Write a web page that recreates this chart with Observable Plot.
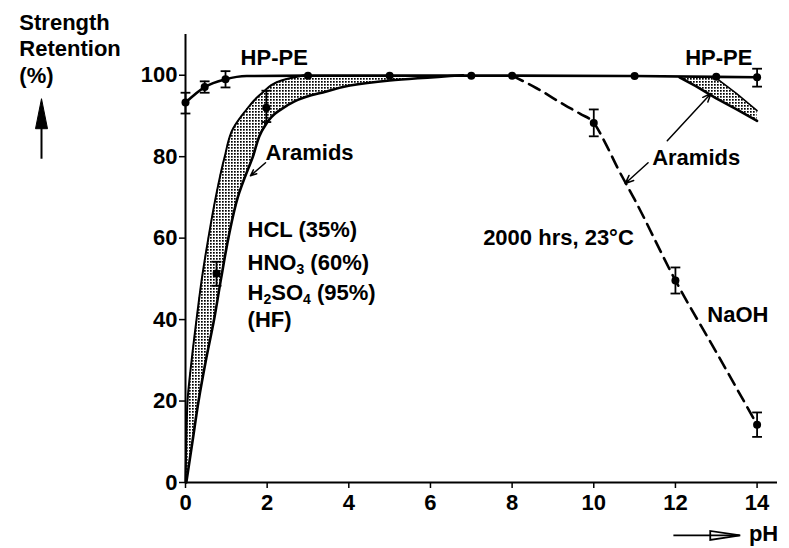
<!DOCTYPE html>
<html><head><meta charset="utf-8">
<script src="https://cdn.jsdelivr.net/npm/d3@7"></script>
<script src="https://cdn.jsdelivr.net/npm/@observablehq/plot@0.6"></script>
<style>body{margin:0;background:#fff;}</style>
</head><body><div id="chart"></div>
<script>
// ---- data ----
const xTicks = [0, 2, 4, 6, 8, 10, 12, 14];
const yTicks = [0, 20, 40, 60, 80, 100];

// HP-PE curve
const hpX = [0, 0.47, 0.98, 1.5, 3, 5, 7, 8, 11, 13, 14];
const hpY = [93.3, 97.1, 99.0, 99.8, 99.9, 99.9, 99.9, 99.9, 99.8, 99.6, 99.5];
const hpDotX = [0, 0.47, 0.98, 3, 5, 7, 8, 11, 13, 14];
const hpDotY = [93.3, 97.1, 99.0, 99.9, 99.9, 99.9, 99.9, 99.8, 99.6, 99.5];
const hpErrX = [0, 0.47, 0.98, 14];
const hpErrLo = [90.6, 95.7, 97.0, 97.2];
const hpErrHi = [95.7, 98.5, 101.0, 101.6];

// Aramids in acid: band (left / right boundary in pH at given retention)
const acidY = [0, 10, 20, 30, 40, 50, 60, 70, 80, 87, 91, 95.5, 98.7, 100];
const acidLeft = [0, 0.02, 0.05, 0.15, 0.27, 0.4, 0.56, 0.74, 0.96, 1.17, 1.45, 1.86, 2.35, 2.9];
const acidRight = [0.02, 0.17, 0.32, 0.5, 0.7, 0.87, 1.05, 1.28, 1.65, 1.91, 2.25, 3.25, 5.0, 6.8];
const acidPtX = [0.76, 1.98];
const acidPtY = [51.3, 92.0];
const acidPtLo = [48.3, 88.5];
const acidPtHi = [54.2, 96.2];

// Aramids in NaOH (dashed)
const naohX = [8, 8.6, 9.3, 9.67, 10, 10.28, 10.58, 11, 12, 13, 14];
const naohY = [99.9, 96.8, 92.6, 90.5, 88.3, 83.4, 77.3, 69.5, 49.6, 32.0, 14.2];
const naohPtX = [10, 12, 14];
const naohPtY = [88.3, 49.6, 14.2];
const naohPtLo = [85.0, 46.4, 11.2];
const naohPtHi = [91.6, 52.8, 17.2];

// Aramids band near pH 12-14
const baseX = [12.1, 12.5, 13, 13.5, 14];
const baseLo = [99.5, 97.3, 94.3, 91.6, 88.8];
const baseHi = [99.6, 99.6, 99.3, 95.5, 91.3];

// annotations
const labelText = ["HP-PE", "HP-PE", "Aramids", "HCL (35%)", "HNO_3 (60%)", "H_2SO_4 (95%)", "(HF)", "Aramids", "2000 hrs, 23°C", "NaOH"];
const labelX = [1.35, 12.24, 1.96, 1.52, 1.52, 1.52, 1.52, 11.43, 7.29, 12.78];
const labelY = [104.3, 104.3, 81.0, 62.1, 54.0, 46.6, 40.0, 79.8, 60.1, 41.2];
const yTitle = ["Strength", "Retention", "(%)"];
const yTitleX = -4.07;
const yTitleY = [112.9, 106.5, 99.9];
const ptrX1 = [1.96, 11.80, 11.33], ptrY1 = [78.5, 83.9, 78.5];
const ptrX2 = [1.59, 12.87, 10.77], ptrY2 = [75.3, 95.5, 73.4];

// ---- build rows ----
const hpRows = hpX.map((x, i) => ({x, y: hpY[i]}));
const hpDots = hpDotX.map((x, i) => ({x, y: hpDotY[i]}));
const hpErr = hpErrX.map((x, i) => ({x, lo: hpErrLo[i], hi: hpErrHi[i]}));
const acidRows = acidY.map((y, i) => ({y, l: acidLeft[i], r: acidRight[i]}));
const acidPts = acidPtX.map((x, i) => ({x, y: acidPtY[i], lo: acidPtLo[i], hi: acidPtHi[i]}));
const naohRows = naohX.map((x, i) => ({x, y: naohY[i]}));
const naohPts = naohPtX.map((x, i) => ({x, y: naohPtY[i], lo: naohPtLo[i], hi: naohPtHi[i]}));
const baseRows = baseX.map((x, i) => ({x, lo: baseLo[i], hi: baseHi[i]}));
const labels = labelText.map((t, i) => ({t, x: labelX[i], y: labelY[i]}));
const titleRows = yTitle.map((t, i) => ({t, x: yTitleX, y: yTitleY[i]}));
const ptrs = ptrX1.map((x, i) => ({x1: x, y1: ptrY1[i], x2: ptrX2[i], y2: ptrY2[i]}));
const errRows = [...hpErr, ...acidPts, ...naohPts];
const caps = errRows.flatMap(d => [{x: d.x, y: d.lo}, {x: d.x, y: d.hi}]);

const F = "'Liberation Sans', Arial, Helvetica, sans-serif";
const cap = 0.12;

// custom arrowhead symbols
const headUp = {draw(ctx) { ctx.moveTo(0, -15); ctx.lineTo(6, 15); ctx.lineTo(-6, 15); ctx.closePath(); }};
const headRight = {draw(ctx) { ctx.moveTo(15, 0); ctx.lineTo(-15, -4.5); ctx.lineTo(-15, 4.5); ctx.closePath(); }};

const plot = Plot.plot({
  width: 789, height: 548,
  marginLeft: 185, marginRight: 12, marginTop: 34, marginBottom: 66,
  x: {domain: [0, 14.5]},
  y: {domain: [0, 110]},
  style: {fontFamily: F, fontWeight: "bold", fontSize: "22px", color: "black", background: "white", overflow: "visible"},
  marks: [
    Plot.areaX(acidRows, {y: "y", x1: "l", x2: "r", fill: "url(#stipple)", curve: "monotone-y"}),
    Plot.line(acidRows, {x: "l", y: "y", curve: "monotone-y", strokeWidth: 2}),
    Plot.line(acidRows, {x: "r", y: "y", curve: "monotone-y", strokeWidth: 2.6}),
    Plot.areaY(baseRows, {x: "x", y1: "lo", y2: "hi", fill: "url(#stipple)"}),
    Plot.line(baseRows, {x: "x", y: "lo", strokeWidth: 2.6}),
    Plot.line(baseRows.filter(d => d.x >= 13), {x: "x", y: "hi", strokeWidth: 1.5}),
    Plot.line(naohRows, {x: "x", y: "y", curve: "monotone-x", strokeWidth: 2.6, strokeDasharray: "12,7"}),
    Plot.line(hpRows, {x: "x", y: "y", curve: "monotone-x", strokeWidth: 2.6}),
    Plot.ruleX(errRows, {x: "x", y1: "lo", y2: "hi", strokeWidth: 1.8}),
    Plot.link(caps, {x1: d => d.x - cap, x2: d => d.x + cap, y1: "y", y2: "y", strokeWidth: 1.8}),
    Plot.dot([...hpDots, ...acidPts, ...naohPts], {x: "x", y: "y", r: 4, fill: "black"}),
    Plot.ruleX([0], {strokeWidth: 2}),
    Plot.ruleY([0], {strokeWidth: 2}),
    Plot.axisX({ticks: xTicks, tickSize: 6, tickPadding: 6, fontSize: 22, strokeWidth: 1.5, label: null}),
    Plot.axisY({ticks: yTicks, tickSize: 6, tickPadding: 2, fontSize: 22, strokeWidth: 1.5, label: null}),
    Plot.text(labels, {x: "x", y: "y", text: "t", textAnchor: "start", fontSize: 22, fontWeight: "bold"}),
    Plot.text(titleRows, {x: "x", y: "y", text: "t", textAnchor: "start", fontSize: 22, fontWeight: "bold"}),
    Plot.arrow(ptrs, {x1: "x1", y1: "y1", x2: "x2", y2: "y2", headLength: 9, headAngle: 45, strokeWidth: 1.5}),
    // vertical arrow under the y title
    Plot.link([{x: -3.527, a: 79.5, b: 88}], {x1: "x", x2: "x", y1: "a", y2: "b", strokeWidth: 2}),
    Plot.dot([{x: -3.527, y: 90.55}], {x: "x", y: "y", symbol: headUp, r: 5, fill: "black", stroke: "black", strokeWidth: 1}),
    // pH arrow
    Plot.dot([{x: 13.22, y: -13}], {x: "x", y: "y", symbol: headRight, r: 5, fill: "white", stroke: "black", strokeWidth: 1.8}),
    Plot.link([{a: 11.95, b: 13.57, y: -13}], {x1: "a", x2: "b", y1: "y", y2: "y", strokeWidth: 1.8}),
    Plot.text([{t: "pH", x: 13.8, y: -12.7}], {x: "x", y: "y", text: "t", textAnchor: "start", fontSize: 22, fontWeight: "bold"})
  ]
});

const svg = d3.select(plot);
const defs = svg.insert("defs", ":first-child");
const pat = defs.append("pattern").attr("id", "stipple").attr("width", 3).attr("height", 3).attr("patternUnits", "userSpaceOnUse");
pat.append("rect").attr("width", 3).attr("height", 3).attr("fill", "white");
pat.append("rect").attr("width", 1.7).attr("height", 1.7).attr("fill", "black");

// subscripts
svg.selectAll("text").each(function () {
  const t = this.textContent;
  if (!t.includes("_")) return;
  const el = d3.select(this);
  el.text(null);
  const parts = t.split(/_(\d)/);
  let shifted = false;
  parts.forEach((p, i) => {
    if (!p) return;
    if (i % 2 === 1) {
      el.append("tspan").attr("dy", 4).attr("font-size", 14).text(p);
      shifted = true;
    } else {
      const ts = el.append("tspan").text(p);
      if (shifted) { ts.attr("dy", -4); shifted = false; }
    }
  });
});

document.getElementById("chart").appendChild(plot);
</script>
</body></html>
